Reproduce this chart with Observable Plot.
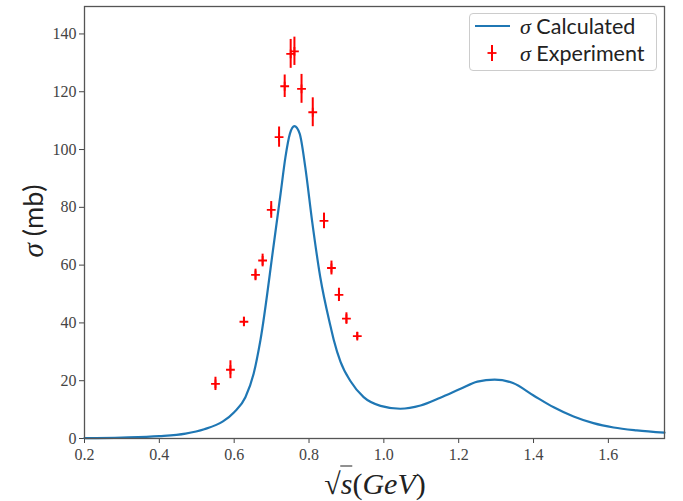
<!DOCTYPE html>
<html>
<head>
<meta charset="utf-8">
<script src="https://cdn.jsdelivr.net/npm/d3@7"></script>
<script src="https://cdn.jsdelivr.net/npm/@observablehq/plot@0.6"></script>
<style>
  html, body { margin: 0; padding: 0; background: #fff; }
  #wrap { position: relative; width: 683px; height: 501px; overflow: hidden; }
  .legend { position: absolute; left: 469px; top: 13px; width: 186px; height: 56px;
            border: 1px solid #cccccc; border-radius: 4px; background: rgba(255,255,255,0.8);
            font-family: Lato, "Open Sans", sans-serif; font-size: 21.5px; color: #222; }
  .row { position: absolute; left: 0; height: 26px; line-height: 26px; }
  .sym { position: absolute; left: 4px; width: 36px; height: 26px; }
  .txt { position: absolute; left: 50px; white-space: nowrap; }
  .sig { font-family: "Liberation Serif", serif; font-style: italic; font-size: 22px; }
  .ylabel { position: absolute; left: 33px; top: 221px; transform: translate(-50%, -50%) rotate(-90deg);
            font-family: Lato, sans-serif; font-size: 27px; color: #222; white-space: nowrap; }
  .xlabel { position: absolute; left: 375px; top: 483px; transform: translate(-50%, -50%);
            font-family: "Liberation Serif", serif; font-size: 30px; color: #222; white-space: nowrap; }
  .xlabel i { font-style: italic; }
  .rad { display: inline-block; border-top: 1.6px solid #222; line-height: 1; padding-top: 2px; }
</style>
</head>
<body>
<div id="wrap">
  <div id="chart"></div>
  <div class="legend">
    <div class="row" style="top:-1px">
      <svg class="sym" viewBox="0 0 36 26"><line x1="1" x2="36" y1="13" y2="13" stroke="#1f77b4" stroke-width="2"/></svg>
      <span class="txt"><span class="sig">σ</span> Calculated</span>
    </div>
    <div class="row" style="top:26px">
      <svg class="sym" viewBox="0 0 36 26"><line x1="18" x2="18" y1="5" y2="21" stroke="red" stroke-width="2"/><line x1="13.5" x2="22.5" y1="13" y2="13" stroke="red" stroke-width="1.8"/></svg>
      <span class="txt"><span class="sig">σ</span> Experiment</span>
    </div>
  </div>
  <div class="ylabel"><span class="sig" style="font-size:29px">σ</span> (mb)</div>
  <div class="xlabel">√<span class="rad"><i>s</i></span>(<i>GeV</i>)</div>
</div>
<script>
// Calculated cross-section curve
const calcX = [0.20, 0.30, 0.40, 0.47, 0.52, 0.57, 0.60, 0.63, 0.652, 0.670, 0.706, 0.724, 0.737, 0.749, 0.761, 0.775, 0.790, 0.808, 0.830, 0.857, 0.866, 0.884, 0.911, 0.946, 0.991, 1.044, 1.098, 1.151, 1.205, 1.25, 1.296, 1.345, 1.40, 1.454, 1.507, 1.56, 1.614, 1.676, 1.75];
const calcY = [0.1, 0.3, 0.8, 1.7, 3.2, 5.9, 9.1, 14.3, 22.4, 33.9, 67.4, 84.7, 97.4, 105.5, 108.1, 105.5, 93.9, 75.5, 55.9, 39.1, 34.2, 26.6, 19.8, 14.3, 11.3, 10.3, 11.4, 14.1, 17.2, 19.7, 20.4, 19.2, 14.9, 10.8, 7.6, 5.3, 3.8, 2.8, 2.0];

// Experimental points with errors
const expX   = [0.550, 0.590, 0.626, 0.657, 0.676, 0.699, 0.720, 0.735, 0.751, 0.761, 0.780, 0.810, 0.840, 0.860, 0.880, 0.900, 0.929];
const expY   = [18.9, 23.8, 40.4, 56.6, 61.6, 79.1, 104.3, 121.9, 133.1, 134.0, 121.0, 112.9, 75.3, 59.0, 49.7, 41.5, 35.4];
const expErr = [2.3, 3.1, 1.6, 2.0, 2.2, 2.9, 3.5, 3.9, 5.0, 4.9, 5.0, 5.0, 2.7, 2.4, 2.3, 2.0, 1.3];

const xTicks = [0.2, 0.4, 0.6, 0.8, 1.0, 1.2, 1.4, 1.6];
const yTicks = [0, 20, 40, 60, 80, 100, 120, 140];

const calc = calcX.map((x, i) => ({x, y: calcY[i]}));
const exp = expX.map((x, i) => ({x, y: expY[i], lo: expY[i] - expErr[i], hi: expY[i] + expErr[i]}));

const plusSym = {
  draw(ctx, size) {
    const r = Math.sqrt(size / Math.PI);
    ctx.moveTo(-r, 0); ctx.lineTo(r, 0);
    ctx.moveTo(0, -r); ctx.lineTo(0, r);
  }
};

const chart = Plot.plot({
  width: 683,
  height: 501,
  marginLeft: 84,
  marginRight: 19,
  marginTop: 6,
  marginBottom: 63,
  style: {fontFamily: "'Liberation Serif', serif", fontSize: "16px", color: "#444", background: "white"},
  x: {domain: [0.2, 1.75]},
  y: {domain: [0, 149.5]},
  marks: [
    Plot.axisX({ticks: xTicks, tickFormat: d => d.toFixed(1), tickSize: 5, tickPadding: 5, label: null, stroke: "#444", fontSize: 16}),
    Plot.axisY({ticks: yTicks, tickFormat: d => String(d), tickSize: 5, tickPadding: 3, label: null, stroke: "#444", fontSize: 16}),
    Plot.line(calc, {x: "x", y: "y", stroke: "#1f77b4", strokeWidth: 2.2, curve: "monotone-x"}),
    Plot.ruleX(exp, {x: "x", y1: "lo", y2: "hi", stroke: "red", strokeWidth: 2}),
    Plot.dot(exp, {x: "x", y: "y", symbol: plusSym, r: 4.4, stroke: "red", strokeWidth: 1.8, fill: "none"}),
    Plot.frame({stroke: "#555", strokeWidth: 1.3})
  ]
});
document.getElementById("chart").appendChild(chart);
</script>
</body>
</html>
